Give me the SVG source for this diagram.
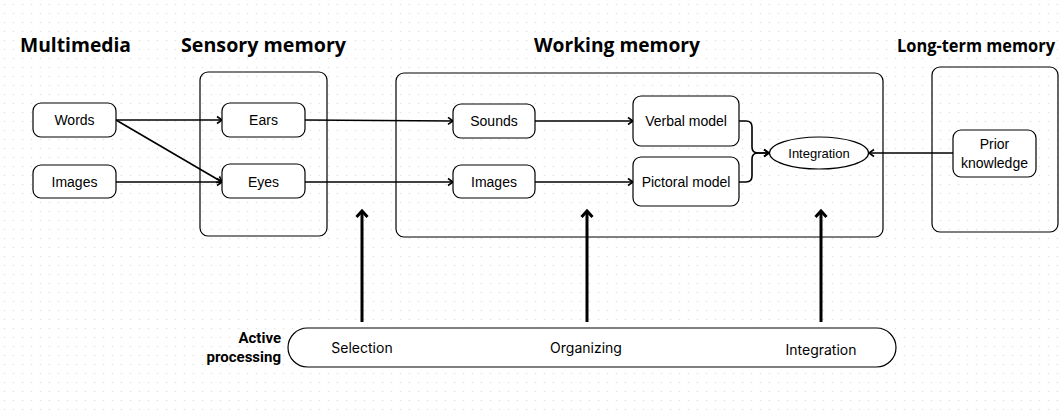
<svg xmlns="http://www.w3.org/2000/svg" width="1061" height="416" viewBox="0 0 1061 416">
<defs>
<pattern id="dots" x="0" y="0" width="9" height="9" patternUnits="userSpaceOnUse">
<circle cx="4.5" cy="4.5" r="0.8" fill="#e2e2e2"/>
</pattern>
<marker id="ah" markerWidth="10" markerHeight="10" refX="8" refY="5" orient="auto" markerUnits="userSpaceOnUse">
<path d="M3,1.5 L8,5 L3,8.5" fill="none" stroke="#000" stroke-width="1.6"/>
</marker>
<marker id="ahb" markerWidth="16" markerHeight="16" refX="8" refY="8" orient="auto" markerUnits="userSpaceOnUse">
<path d="M2,2.5 L8,8 L2,13.5" fill="none" stroke="#000" stroke-width="3"/>
</marker>
</defs>
<style>
.title{font-family:"Open Sans","Liberation Sans",sans-serif;font-weight:700;font-size:19px;fill:#000}
.box{fill:#fff;stroke:#000;stroke-width:1.2}
.cont{fill:none;stroke:#000;stroke-width:1.2}
.lbl{font-family:"Liberation Sans",Arial,sans-serif;font-size:14px;fill:#000;text-anchor:middle;dominant-baseline:central}
.ap{font-family:"Inter","Liberation Sans",sans-serif;font-size:14px;fill:#000;text-anchor:middle;dominant-baseline:central}
.apb{font-family:Roboto,"Liberation Sans",sans-serif;font-weight:700;font-size:15px;fill:#000;text-anchor:end}
.c{fill:none;stroke:#000;stroke-width:1.6;marker-end:url(#ah)}
.cb{fill:none;stroke:#000;stroke-width:3;marker-end:url(#ahb)}
</style>
<rect width="1061" height="416" fill="#fff"/>
<rect width="1061" height="416" fill="url(#dots)"/>

<g id="titles">
<text class="title" x="20" y="52" textLength="111" lengthAdjust="spacingAndGlyphs">Multimedia</text>
<text class="title" x="181" y="52" textLength="165" lengthAdjust="spacingAndGlyphs">Sensory memory</text>
<text class="title" x="534" y="52" textLength="166" lengthAdjust="spacingAndGlyphs">Working memory</text>
<text class="title" x="897" y="52" textLength="158" lengthAdjust="spacingAndGlyphs" style="font-size:18.5px">Long-term memory</text>
</g>

<g id="sensory-container"><rect class="cont" x="200" y="72" width="127" height="164" rx="8"/></g>
<g id="working-container"><rect class="cont" x="396" y="73" width="487" height="164" rx="8"/></g>
<g id="longterm-container"><rect class="cont" x="932" y="67" width="126" height="165" rx="8"/></g>

<g id="connectors">
<line class="c" x1="116" y1="120" x2="222" y2="120"/>
<line class="c" x1="116" y1="120" x2="222" y2="182"/>
<line class="c" x1="116" y1="182" x2="222" y2="182"/>
<line class="c" x1="305" y1="120" x2="453" y2="121"/>
<line class="c" x1="305" y1="182" x2="453" y2="182"/>
<line class="c" x1="535" y1="121" x2="633" y2="121"/>
<line class="c" x1="535" y1="182" x2="633" y2="182"/>
<path class="c" d="M739,121 L746,121 Q752,121 752,127 L752,147 Q752,153 758,153 L769,153"/>
<path class="c" d="M739,182 L746,182 Q752,182 752,176 L752,159 Q752,153 758,153 L769,153"/>
<line class="c" x1="953" y1="153" x2="869" y2="153"/>
<line class="cb" x1="362" y1="322" x2="362" y2="211"/>
<line class="cb" x1="587" y1="322" x2="587" y2="211"/>
<line class="cb" x1="821" y1="322" x2="821" y2="211"/>
</g>

<g id="words"><rect class="box" x="33" y="103" width="83" height="34" rx="8"/><text class="lbl" x="74.5" y="120">Words</text></g>
<g id="images-mm"><rect class="box" x="33" y="165" width="83" height="33" rx="8"/><text class="lbl" x="74.5" y="182">Images</text></g>
<g id="ears"><rect class="box" x="222" y="103" width="83" height="34" rx="8"/><text class="lbl" x="263.5" y="120">Ears</text></g>
<g id="eyes"><rect class="box" x="222" y="164" width="83" height="34" rx="8"/><text class="lbl" x="263.5" y="182">Eyes</text></g>
<g id="sounds"><rect class="box" x="453" y="104" width="82" height="34" rx="8"/><text class="lbl" x="494" y="121">Sounds</text></g>
<g id="images-wm"><rect class="box" x="453" y="165" width="82" height="33" rx="8"/><text class="lbl" x="494" y="182">Images</text></g>
<g id="verbal-model"><rect class="box" x="633" y="96" width="106" height="50" rx="8"/><text class="lbl" x="686" y="121">Verbal model</text></g>
<g id="pictoral-model"><rect class="box" x="633" y="157" width="106" height="49" rx="8"/><text class="lbl" x="686" y="182">Pictoral model</text></g>
<g id="integration"><ellipse class="box" cx="819" cy="153" rx="49.5" ry="16"/><text class="lbl" x="819" y="153" style="font-size:13px">Integration</text></g>
<g id="prior-knowledge"><rect class="box" x="953" y="130" width="83" height="47" rx="8"/><text class="lbl" x="994.5" y="144">Prior</text><text class="lbl" x="994.5" y="163">knowledge</text></g>

<g id="active-processing">
<text class="apb" x="281" y="343">Active</text>
<text class="apb" x="281" y="362">processing</text>
<rect class="box" x="288" y="328" width="608" height="39" rx="19.5"/>
<text class="ap" x="362" y="347">Selection</text>
<text class="ap" x="586" y="347">Organizing</text>
<text class="ap" x="821" y="349">Integration</text>
</g>
</svg>
